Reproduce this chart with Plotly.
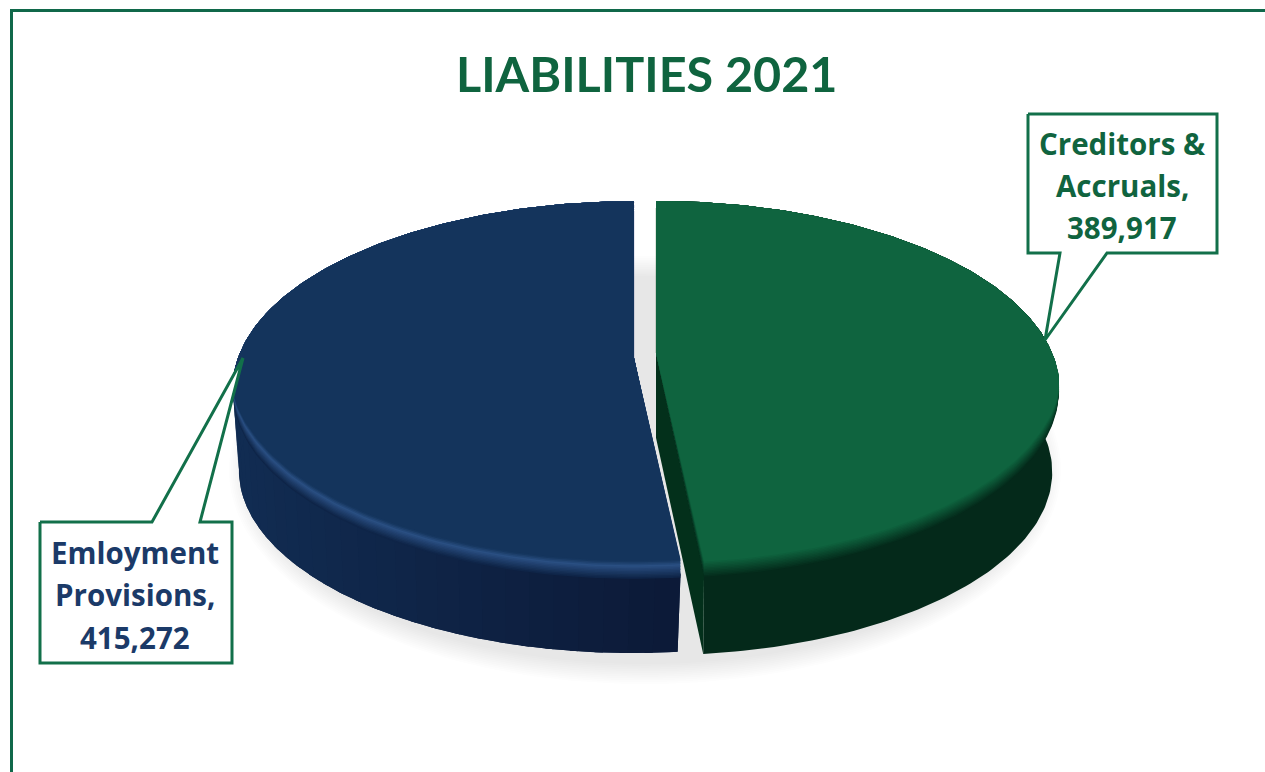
import numpy as np
import plotly.graph_objects as go

# Chart content
title_text = "LIABILITIES 2021"
categories = ["Creditors & Accruals", "Emloyment Provisions"]
values = [389917, 415272]
label_lines = [["Creditors &", "Accruals,"], ["Emloyment", "Provisions,"]]

# Palette
GREEN_TOP = "#0f643f"
GREEN_WALL = "#04291a"
GREEN_CUT = "#03301b"
BLUE_TOP = "#14345c"
BLUE_HIGHLIGHT = "#2a4f82"
BLUE_WALL_MID = "#0f2548"
BLUE_WALL_LEFT = "#112c52"
BLUE_WALL_RIGHT = "#0c1a38"
FRAME = "#10684a"
LABEL_GREEN = "#10643f"
LABEL_BLUE = "#1b3a68"

# Perspective disc: centre on screen, radii and foreshortening strength
CX = 645.0
RX = 396.0
EXPLODE = 11.0
ELLIPSE_Y = 388.0
DEPTH = 82.0


def hex_rgb(c):
    return np.array([int(c[i:i + 2], 16) for i in (1, 3, 5)], dtype=float)


def mix(a, b, t):
    r = hex_rgb(a) * (1 - t) + hex_rgb(b) * t
    return "rgb(%d,%d,%d)" % tuple(r.round())


def rim(theta, cx, cy, ry, k):
    """Screen position of a point on the disc edge, theta clockwise from 12 o'clock."""
    t = np.radians(theta)
    w = 1 + k * np.cos(t)
    return cx + RX * np.sin(t) / w, cy - ry * np.cos(t) / w


def floor(x, y, cx, sx, dx, depth=DEPTH):
    """Same point dropped to the underside of the disc."""
    return cx + dx + sx * (x - cx), ELLIPSE_Y + depth + 0.98 * (y - ELLIPSE_Y)


def poly(x, y, color, name=None):
    return go.Scatter(
        x=np.r_[x, x[0]], y=np.r_[y, y[0]], mode="lines", fill="toself",
        fillcolor=color, line=dict(width=0), hoverinfo="skip" if name is None else "text",
        text=name, showlegend=False,
    )


fig = go.Figure()

# Soft ground shadow under the whole pie
tt = np.radians(np.linspace(0, 360, 241))
for grow in np.linspace(14, -6, 12):
    fig.add_trace(poly(645 + (402 + grow) * np.cos(tt), 470 + (200 + grow) * np.sin(tt),
                       "rgba(90,90,90,0.011)"))

# Slice angles come straight from the values, clockwise from 12 o'clock
total = sum(values)
sweep = [v / total * 360 for v in values]
green_a = np.linspace(0, sweep[0], 181)
blue_a = np.linspace(sweep[0], 360, 181)

gcx, gcy = CX + EXPLODE * np.sin(np.radians(sweep[0] / 2)), 353.0
bcx, bcy = CX + EXPLODE * np.sin(np.radians(sweep[0] + sweep[1] / 2)), 358.0

# Green slice: wall, cut face, bevelled top
gx, gy = rim(green_a, gcx, gcy, 180.5, 0.187)
gs = (0.983, 0.0, 84.0)
wall = green_a >= 55
wx, wy = gx[wall], gy[wall]
fx, fy = floor(wx, wy, gcx, *gs)
fig.add_trace(poly(np.r_[wx, fx[::-1]], np.r_[wy, fy[::-1]], GREEN_WALL))
ax_b, ay_b = floor(gcx, gcy, gcx, *gs)
fig.add_trace(poly(np.array([gcx, gx[-1], fx[-1], ax_b]),
                   np.array([gcy, gy[-1], fy[-1], ay_b]), GREEN_CUT))

# Blue slice: graded wall strips, then bevelled top
bx, by = rim(blue_a, bcx, bcy, 182.0, 0.1604)
bs = (0.98, -2.0)
wall = blue_a <= 305
wx, wy = bx[wall], by[wall]
fx, fy = floor(wx, wy, bcx, *bs)
fig.add_trace(poly(np.r_[wx, fx[::-1]], np.r_[wy, fy[::-1]], BLUE_WALL_MID))
n = len(wx)
for i in range(0, n - 1, 3):
    j = min(i + 4, n - 1)
    t = np.clip((wx[i] - 240) / 440, 0, 1)
    fig.add_trace(poly(np.r_[wx[i:j + 1], fx[i:j + 1][::-1]], np.r_[wy[i:j + 1], fy[i:j + 1][::-1]],
                       mix(BLUE_WALL_LEFT, BLUE_WALL_RIGHT, t)))


def top_layer(angles, x, y, cx, cy, shift, color, name=None):
    """Top face with its front edge nudged by shift; back edge and apex stay put."""
    u = np.clip((0.05 - np.cos(np.radians(angles))) / 0.55, 0, 1)
    weight = u * u * (3 - 2 * u)
    fig.add_trace(poly(np.r_[cx, x], np.r_[cy, y + shift * weight], color, name))


# Rim shading, painted from the outermost band inwards
green_steps = np.arange(3, -12.5, -1.5)
for i, s in enumerate(green_steps):
    frac = (i + 1) / len(green_steps)
    top_layer(green_a, gx, gy, gcx, gcy, s, mix(GREEN_WALL, GREEN_TOP, frac),
              f"{categories[0]}: {values[0]:,}" if i == len(green_steps) - 1 else None)

blue_steps = np.arange(4, -15, -1.5)
for i, s in enumerate(blue_steps):
    if s > -8:
        col = mix(BLUE_WALL_MID, BLUE_HIGHLIGHT, (4 - s) / 12)
    else:
        col = mix(BLUE_HIGHLIGHT, BLUE_TOP, min((-8 - s) / 5, 1))
    top_layer(blue_a, bx, by, bcx, bcy, s, col,
              f"{categories[1]}: {values[1]:,}" if i == len(blue_steps) - 1 else None)

# Callout boxes with pointers to their slices
callouts = [
    ([1028, 1217, 1217, 1107, 1045, 1060, 1028], [114, 114, 253, 253, 340, 253, 253]),
    ([40, 152, 243, 200, 232, 232, 40], [522, 522, 358, 522, 522, 663, 663]),
]
for xs, ys in callouts:
    fig.add_trace(go.Scatter(x=xs + xs[:1], y=ys + ys[:1], mode="lines", fill="toself",
                             fillcolor="white", line=dict(color="#12704a", width=3),
                             hoverinfo="skip", showlegend=False))

# Label text, one annotation per line for the tight leading
annotations = [dict(x=646, y=73, text=f"<b>{title_text}</b>", showarrow=False, xanchor="center",
                    yanchor="middle", font=dict(family="Lato", size=48.5, color=GREEN_TOP))]
label_pos = [(1122, [143, 185, 227], LABEL_GREEN), (135, [552, 594, 637], LABEL_BLUE)]
for lines, v, (lx, lys, col) in zip(label_lines, values, label_pos):
    for txt, ly in zip(lines + [f"{v:,}"], lys):
        annotations.append(dict(x=lx, y=ly, text=f"<b>{txt}</b>", showarrow=False, xanchor="center",
                                yanchor="middle", font=dict(family="Open Sans", size=29.5, color=col)))

fig.update_layout(
    width=1265, height=772, margin=dict(l=0, r=0, t=0, b=0),
    paper_bgcolor="white", plot_bgcolor="white", showlegend=False,
    xaxis=dict(range=[0, 1265], visible=False, fixedrange=True),
    yaxis=dict(range=[772, 0], visible=False, fixedrange=True),
    annotations=annotations,
    shapes=[
        dict(type="line", x0=10, x1=1265, y0=10.5, y1=10.5, line=dict(color=FRAME, width=3)),
        dict(type="line", x0=11.5, x1=11.5, y0=9, y1=772, line=dict(color=FRAME, width=3)),
    ],
)

fig.write_html("out.html")
